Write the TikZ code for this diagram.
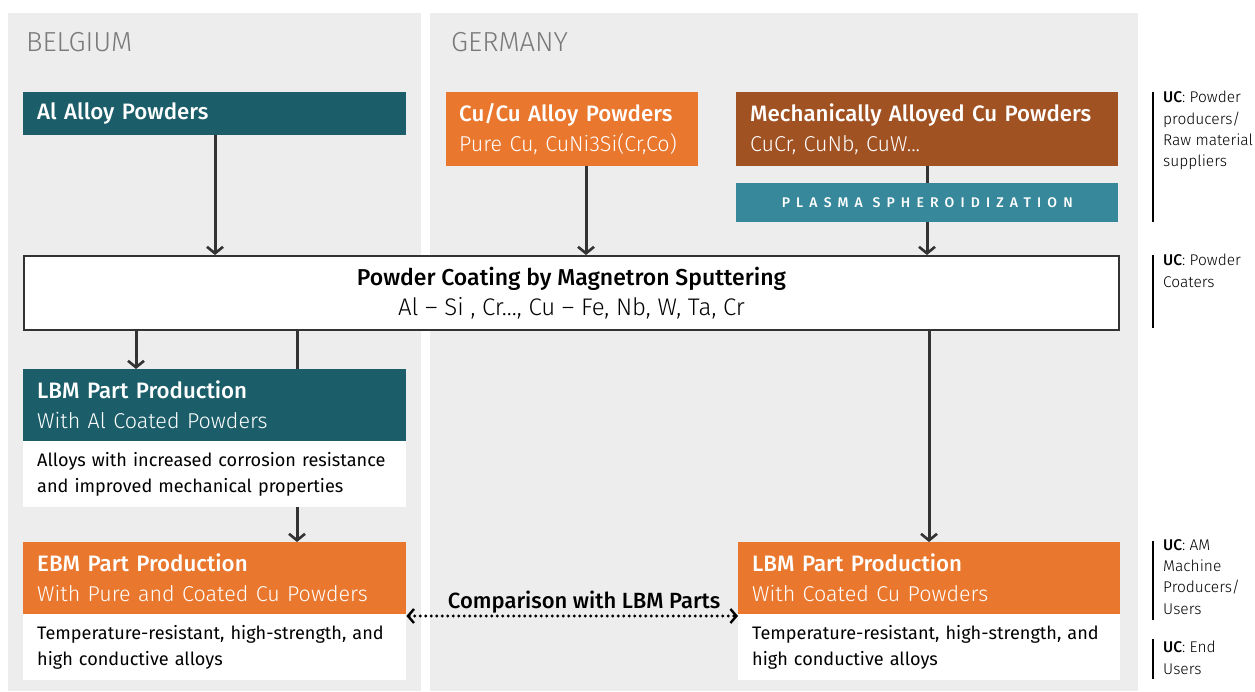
\documentclass[tikz,border=0pt]{standalone}
\usepackage{fontspec}
\setmainfont{Fira Sans}
\newfontfamily\lightfont{Fira Sans Light}
\newfontfamily\medfont{Fira Sans Medium}
\newfontfamily\spacedfont{Fira Sans Medium}[LetterSpace=44]
\usetikzlibrary{arrows.meta}
\pgfdeclarelayer{bg}
\pgfdeclarelayer{mid}
\pgfsetlayers{bg,mid,main}
\definecolor{panel}{HTML}{EDEDED}
\definecolor{tealdark}{HTML}{1B5E6A}
\definecolor{orng}{HTML}{E9772E}
\definecolor{brwn}{HTML}{A15223}
\definecolor{tealmid}{HTML}{37889B}
\definecolor{arr}{HTML}{333333}
\definecolor{hdr}{HTML}{7A7A7A}
\newcommand{\subl}[1]{{\lightfont\fontsize{21.5}{30}\selectfont #1}}
\tikzset{
  x=1pt, y=-1pt,
  box/.style={rectangle, anchor=north west, inner xsep=14pt, inner ysep=0pt,
    align=left, text=white, font=\medfont\fontsize{22.3}{30}\selectfont},
  desc/.style={rectangle, anchor=north west, fill=white, inner xsep=14pt, inner ysep=0pt,
    align=left, text=black, font=\fontsize{18.1}{26}\selectfont},
  flow/.style={draw=arr, line width=3pt, -{Straight Barb[length=6.5pt,width=16pt,line width=2.6pt]}},
  plain/.style={draw=arr, line width=3pt},
  uc/.style={anchor=north west, align=left, inner sep=0pt, font=\lightfont\fontsize{15.5}{21.3}\selectfont},
  ucbar/.style={draw=black, line width=1.4pt},
  hdrtext/.style={anchor=west, inner sep=0pt, text=hdr, font=\lightfont\fontsize{27.5}{30}\selectfont},
}
\begin{document}
\begin{tikzpicture}
\useasboundingbox (0,0) rectangle (1255,691);
\begin{pgfonlayer}{bg}
\fill[white] (0,0) rectangle (1255,691);
\fill[panel] (8,13) rectangle (421,691);
\fill[panel] (430,13) rectangle (1138,691);
\end{pgfonlayer}
\node[hdrtext] (bel) at (26,42) {BELGIUM};
\node[hdrtext] (ger) at (451,42) {GERMANY};

% source boxes
\node[box, fill=tealdark, minimum width=383pt, text width=355pt, minimum height=43pt] (al) at (23,92) {\raisebox{-1.5pt}{Al Alloy Powders}};
\node[box, fill=orng, inner xsep=13pt, minimum width=252pt, text width=226pt, minimum height=74pt] (cu) at (446,92)
  {Cu/Cu Alloy Powders\\\subl{Pure Cu, CuNi3Si(Cr,Co)}};
\node[box, fill=brwn, minimum width=382pt, text width=354pt, minimum height=74pt] (mech) at (736,92)
  {Mechanically Alloyed Cu Powders\\\subl{CuCr, CuNb, CuW...}};
\node[rectangle, anchor=north west, fill=tealmid, minimum width=382pt, minimum height=39pt, inner sep=0pt,
  text=white, font=\spacedfont\fontsize{14}{15}\selectfont] (plasma) at (736,183) {PLASMA SPHEROIDIZATION};

% coating box
\node[rectangle, anchor=north west, draw=arr, line width=2pt, fill=white, minimum width=1095pt, minimum height=74pt,
  inner sep=0pt, align=center, font=\medfont\fontsize{23}{30}\selectfont] (coat) at (23,255)
  {Powder Coating by Magnetron Sputtering\\{\lightfont\fontsize{24}{30}\selectfont Al – Si , Cr..., Cu – Fe, Nb, W, Ta, Cr}};

% LBM Al
\node[box, fill=tealdark, minimum width=383pt, text width=355pt, minimum height=72pt] (lbmal) at (23,369)
  {LBM Part Production\\\subl{With Al Coated Powders}};
\node[desc, minimum width=383pt, text width=355pt, minimum height=66pt] (lbmaldesc) at (23,441)
  {Alloys with increased corrosion resistance\\and improved mechanical properties};

% EBM
\node[box, fill=orng, minimum width=383pt, text width=355pt, minimum height=72pt] (ebm) at (23,542)
  {EBM Part Production\\\subl{With Pure and Coated Cu Powders}};
\node[desc, minimum width=383pt, text width=355pt, minimum height=66pt] (ebmdesc) at (23,614)
  {Temperature-resistant, high-strength, and\\high conductive alloys};

% LBM Cu
\node[box, fill=orng, minimum width=382pt, text width=354pt, minimum height=72pt] (lbmcu) at (738,542)
  {LBM Part Production\\\subl{With Coated Cu Powders}};
\node[desc, minimum width=382pt, text width=354pt, minimum height=66pt] (lbmcudesc) at (738,614)
  {Temperature-resistant, high-strength, and\\high conductive alloys};

% arrows
\draw[flow] (al.south -| 215,0) -- (coat.north -| 215,0);
\draw[flow] (cu.south -| 586,0) -- (coat.north -| 586,0);
\draw[plain] (mech.south -| 927,0) -- (plasma.north -| 927,0);
\draw[flow] (plasma.south -| 927,0) -- (coat.north -| 927,0);
\draw[flow] (coat.south -| 136,0) -- (lbmal.north -| 136,0);
\draw[flow] (coat.south -| 929,0) -- (lbmcu.north -| 929,0);
\begin{pgfonlayer}{mid}
\draw[flow] (coat.south -| 297,0) -- (ebm.north -| 297,0);
\end{pgfonlayer}
\draw[draw=black, line width=3.3pt, dash pattern=on 0pt off 5.5pt, line cap=round,
  {Straight Barb[length=6pt,width=14pt,line width=2.4pt]}-{Straight Barb[length=6pt,width=14pt,line width=2.4pt]}]
  (ebm.south east |- 0,616) -- node[above=-2pt, xshift=12pt, font=\medfont\fontsize{22}{22}\selectfont] (cmp) {Comparison with LBM Parts} (lbmcu.south west |- 0,616);

% UC labels
\coordinate (u1a) at (1153,92); \coordinate (u1b) at (1153,222);
\draw[ucbar] (u1a) -- (u1b);
\node[uc] (uc1) at (1163,91) {{\medfont UC}: Powder\\producers/\\Raw material\\suppliers};
\coordinate (u2a) at (1153,255); \coordinate (u2b) at (1153,328);
\draw[ucbar] (u2a) -- (u2b);
\node[uc] (uc2) at (1163,254) {{\medfont UC}: Powder\\Coaters};
\coordinate (u3a) at (1153,541); \coordinate (u3b) at (1153,620);
\draw[ucbar] (u3a) -- (u3b);
\node[uc] (uc3) at (1163,539) {{\medfont UC}: AM\\Machine\\Producers/\\Users};
\coordinate (u4a) at (1153,639); \coordinate (u4b) at (1153,679);
\draw[ucbar] (u4a) -- (u4b);
\node[uc] (uc4) at (1163,641) {{\medfont UC}: End\\Users};
\end{tikzpicture}
\end{document}
